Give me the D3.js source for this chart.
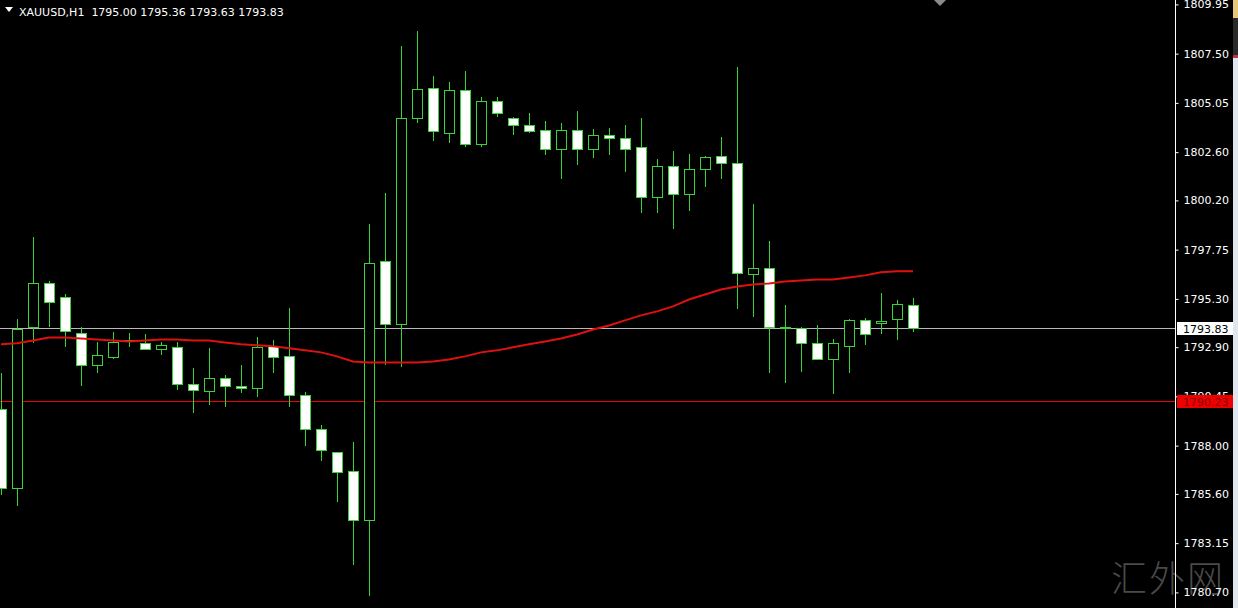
<!DOCTYPE html>
<html>
<head>
<meta charset="utf-8">
<script src="https://cdn.jsdelivr.net/npm/d3@7"></script>
<style>
html,body{margin:0;padding:0;background:#000;overflow:hidden;}
svg{display:block;}
</style>
</head>
<body>
<svg id="chart" width="1238" height="608"></svg>
<script>
// ---- data ----
const symbolTitle = "XAUUSD,H1";
const lastBar = ["1795.00", "1795.36", "1793.63", "1793.83"];
const opens = [1789.80,1785.87,1793.88,1796.07,1795.37,1793.58,1791.99,1792.39,1793.23,1793.13,
  1792.79,1792.89,1791.09,1790.70,1791.39,1790.99,1790.85,1792.94,1792.44,1790.50,
  1788.81,1787.66,1786.72,1784.28,1797.21,1794.03,1804.28,1805.77,1803.53,1805.67,
  1803.03,1805.12,1804.28,1803.93,1803.68,1802.74,1803.68,1802.74,1803.43,1803.28,
  1802.84,1800.35,1801.89,1800.50,1801.74,1802.39,1802.04,1796.52,1796.82,1793.88,
  1793.83,1793.13,1792.29,1792.94,1794.23,1794.08,1794.28,1795.00];
const highs = [1791.59,1794.28,1798.36,1796.17,1795.52,1793.88,1793.18,1793.63,1793.58,1793.53,
  1793.18,1793.18,1791.84,1792.84,1791.49,1791.99,1793.38,1793.28,1794.83,1790.65,
  1789.01,1787.70,1788.16,1799.01,1800.55,1807.86,1808.61,1806.37,1806.07,1806.62,
  1805.32,1805.32,1804.35,1804.53,1804.13,1804.03,1804.63,1803.73,1803.78,1803.93,
  1804.28,1802.24,1802.64,1802.49,1802.39,1803.33,1806.82,1800.00,1798.16,1794.98,
  1793.88,1793.98,1793.33,1794.28,1794.33,1795.57,1795.27,1795.36];
const lows = [1785.57,1784.98,1793.13,1793.88,1792.89,1790.95,1791.59,1792.29,1792.89,1792.74,
  1792.49,1790.75,1789.60,1790.00,1789.90,1790.60,1790.40,1791.59,1789.90,1787.96,
  1787.26,1785.22,1782.04,1780.50,1791.99,1791.89,1804.03,1803.13,1803.08,1802.84,
  1802.84,1804.33,1803.43,1803.53,1802.44,1801.24,1801.94,1802.29,1802.44,1801.59,
  1799.55,1799.55,1798.76,1799.65,1800.85,1801.24,1794.78,1794.38,1791.59,1791.14,
  1791.64,1792.24,1790.55,1791.59,1792.99,1793.53,1793.28,1793.63];
const closes = [1785.87,1793.78,1796.07,1795.17,1793.68,1791.99,1792.49,1793.18,1793.26,1792.79,
  1792.99,1791.09,1790.75,1791.39,1790.99,1790.85,1792.89,1792.39,1790.50,1788.81,
  1787.76,1786.67,1784.28,1797.11,1794.03,1804.28,1805.72,1803.63,1805.67,1803.03,
  1805.12,1804.53,1803.93,1803.63,1802.74,1803.68,1802.74,1803.43,1803.28,1802.74,
  1800.35,1801.89,1800.50,1801.74,1802.34,1802.04,1796.57,1796.82,1793.88,1793.86,
  1793.09,1792.29,1793.09,1794.23,1793.53,1794.18,1795.03,1793.83];
const maValues = [1793.04,1793.09,1793.23,1793.38,1793.38,1793.33,1793.28,1793.23,1793.18,1793.23,
  1793.28,1793.28,1793.23,1793.23,1793.13,1793.04,1792.99,1792.94,1792.84,1792.74,
  1792.64,1792.44,1792.19,1792.14,1792.14,1792.14,1792.14,1792.19,1792.29,1792.44,
  1792.64,1792.74,1792.89,1793.04,1793.18,1793.33,1793.53,1793.78,1793.98,1794.23,
  1794.48,1794.68,1794.93,1795.27,1795.52,1795.77,1795.92,1796.02,1796.07,1796.17,
  1796.22,1796.27,1796.27,1796.37,1796.47,1796.62,1796.67,1796.67];
const tickValues = [1809.95,1807.50,1805.05,1802.60,1800.20,1797.75,1795.30,1792.90,1790.45,1788.00,1785.60,1783.15,1780.70];
const currentPrice = 1793.83;
const levelPrice = 1790.23;
const watermark = "汇外网";

// ---- drawing ----
const W = 1238, H = 608, axisX = 1175;
const svg = d3.select("#chart");
const font = "'DejaVu Sans', sans-serif";

const y = d3.scaleLinear().domain([1780.70, 1809.95]).range([592.4, 4.4]);
const x = d3.scaleLinear().domain([0, opens.length - 1]).range([1, 913]);

svg.append("rect").attr("width", W).attr("height", H).attr("fill", "#000");

// right scrollbar strip
svg.append("rect").attr("x", 1233).attr("y", 0).attr("width", 5).attr("height", H).attr("fill", "#dfe6ef");
svg.append("rect").attr("x", 1233).attr("y", 0).attr("width", 5).attr("height", 18).attr("fill", "#e8c878");
svg.append("rect").attr("x", 1233).attr("y", 18).attr("width", 5).attr("height", 37).attr("fill", "#2a2a2a");
svg.append("rect").attr("x", 1233).attr("y", 55).attr("width", 5).attr("height", 3).attr("fill", "#c0304a");

const plot = svg.append("g");
const clip = svg.append("clipPath").attr("id", "plotclip");
clip.append("rect").attr("x", 0).attr("y", 0).attr("width", axisX).attr("height", H);
plot.attr("clip-path", "url(#plotclip)");

// watermark
svg.append("text").attr("x", 1168).attr("y", 592).attr("text-anchor", "middle")
  .attr("font-family", "'Noto Sans CJK SC', sans-serif").attr("font-weight", 300)
  .attr("font-size", 36).attr("fill", "#4a4a4a").attr("letter-spacing", 2).text(watermark);

// horizontal level lines
const snap = v => Math.round(v) + 0.5;
plot.append("line").attr("x1", 0).attr("x2", axisX).attr("y1", snap(y(levelPrice))).attr("y2", snap(y(levelPrice)))
  .attr("stroke", "#f00000").attr("stroke-width", 1);
plot.append("line").attr("x1", 0).attr("x2", axisX).attr("y1", snap(y(currentPrice))).attr("y2", snap(y(currentPrice)))
  .attr("stroke", "#b8b8b8").attr("stroke-width", 1);

const green = "#3ad43a";
const idx = d3.range(opens.length);
const cg = plot.append("g");
// wicks
cg.selectAll("line.wick").data(idx).join("line").attr("class", "wick")
  .attr("x1", i => Math.round(x(i)) + 0.5).attr("x2", i => Math.round(x(i)) + 0.5)
  .attr("y1", i => Math.round(y(highs[i]))).attr("y2", i => Math.round(y(lows[i])))
  .attr("stroke", green).attr("stroke-width", 1);
// bodies
cg.selectAll("rect.body").data(idx).join("rect").attr("class", "body")
  .attr("x", i => Math.round(x(i)) - 4.5)
  .attr("width", 10)
  .attr("y", i => Math.round(y(Math.max(opens[i], closes[i]))) + 0.5)
  .attr("height", i => Math.max(1, Math.round(y(Math.min(opens[i], closes[i]))) - Math.round(y(Math.max(opens[i], closes[i])))))
  .attr("fill", i => closes[i] >= opens[i] ? "#000" : "#fff")
  .attr("stroke", green).attr("stroke-width", 1);

// moving average
plot.append("path").datum(idx)
  .attr("d", d3.line().x(i => x(i)).y(i => y(maValues[i])))
  .attr("fill", "none").attr("stroke", "#e01010").attr("stroke-width", 2);

// right axis
const axis = d3.axisRight(y).tickValues(tickValues).tickFormat(d3.format(".2f")).tickSize(3).tickPadding(5);
const ag = svg.append("g").attr("transform", `translate(${axisX + 0.5},0)`).call(axis);
ag.select(".domain").attr("stroke", "#fff").attr("d", `M0,0V${H}`);
ag.selectAll(".tick line").attr("stroke", "#fff");
ag.selectAll(".tick text").attr("fill", "#fff").attr("font-family", font).attr("font-size", 11);

// price labels
function priceLabel(v, bg, fg) {
  const yy = Math.round(y(v));
  svg.append("rect").attr("x", axisX + 2).attr("y", yy - 6).attr("width", 56).attr("height", 13).attr("fill", bg);
  svg.append("text").attr("x", axisX + 8).attr("y", yy + 5).attr("fill", fg)
    .attr("font-family", font).attr("font-size", 11).text(v.toFixed(2));
}
priceLabel(levelPrice, "#ee0000", "#8a0000");
priceLabel(currentPrice, "#ffffff", "#000000");

// header
svg.append("path").attr("d", "M5,7 L13,7 L9,12 Z").attr("fill", "#fff");
svg.append("text").attr("x", 19).attr("y", 16).attr("fill", "#fff").attr("font-family", font).attr("font-size", 11)
  .attr("xml:space", "preserve")
  .text(symbolTitle + "  " + lastBar.join(" "));

// shift marker
svg.append("path").attr("d", "M934,0 L946,0 L940,6 Z").attr("fill", "#8a8a8a");
</script>
</body>
</html>
